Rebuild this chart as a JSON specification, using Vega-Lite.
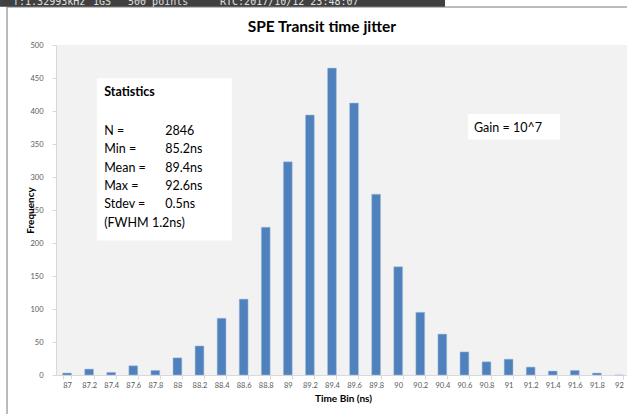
{
  "$schema": "https://vega.github.io/schema/vega-lite/v6.json",
  "autosize": "none",
  "width": 574,
  "height": 330,
  "padding": {"left": 56, "top": 45, "right": 0, "bottom": 39},
  "background": "white",
  "config": {
    "view": {"fill": "#f2f2f2", "stroke": null},
    "axis": {"labelFont": "Lato", "titleFont": "Lato"}
  },
  "data": {
    "values": [
      {"bin": "87", "freq": 3},
      {"bin": "87.2", "freq": 9},
      {"bin": "87.4", "freq": 4},
      {"bin": "87.6", "freq": 14},
      {"bin": "87.8", "freq": 7},
      {"bin": "88", "freq": 26},
      {"bin": "88.2", "freq": 44},
      {"bin": "88.4", "freq": 86},
      {"bin": "88.6", "freq": 115},
      {"bin": "88.8", "freq": 224},
      {"bin": "89", "freq": 323},
      {"bin": "89.2", "freq": 394},
      {"bin": "89.4", "freq": 465},
      {"bin": "89.6", "freq": 412},
      {"bin": "89.8", "freq": 274},
      {"bin": "90", "freq": 164},
      {"bin": "90.2", "freq": 95},
      {"bin": "90.4", "freq": 62},
      {"bin": "90.6", "freq": 35},
      {"bin": "90.8", "freq": 20},
      {"bin": "91", "freq": 24},
      {"bin": "91.2", "freq": 12},
      {"bin": "91.4", "freq": 6},
      {"bin": "91.6", "freq": 7},
      {"bin": "91.8", "freq": 3},
      {"bin": "92", "freq": 0}
    ]
  },
  "encoding": {
    "x": {
      "field": "bin",
      "type": "ordinal",
      "sort": null,
      "scale": {
        "domain": ["87", "87.2", "87.4", "87.6", "87.8", "88", "88.2", "88.4", "88.6", "88.8", "89", "89.2", "89.4", "89.6", "89.8", "90", "90.2", "90.4", "90.6", "90.8", "91", "91.2", "91.4", "91.6", "91.8", "92"],
        "paddingInner": 0.6,
        "paddingOuter": 0.3
      },
      "axis": {
        "title": "Time Bin (ns)",
        "titleFontSize": 10,
        "titleFontWeight": "bold",
        "titleColor": "#000000",
        "titlePadding": 5,
        "labelAngle": 0,
        "labelFontSize": 7.5,
        "labelColor": "#595959",
        "labelPadding": 2,
        "tickBand": "extent",
        "tickSize": 4,
        "tickColor": "#d9d9d9",
        "domainColor": "#d9d9d9",
        "labelFlush": false,
        "labelOverlap": false
      }
    },
    "y": {
      "field": "freq",
      "type": "quantitative",
      "scale": {"domain": [0, 500], "nice": false},
      "axis": {
        "title": "Frequency",
        "titleFontSize": 10,
        "titleFontWeight": "bold",
        "titleColor": "#000000",
        "titleX": -21,
        "values": [0, 50, 100, 150, 200, 250, 300, 350, 400, 450, 500],
        "labelFontSize": 7.5,
        "labelColor": "#595959",
        "labelPadding": 9,
        "tickSize": 4,
        "tickColor": "#d9d9d9",
        "domainColor": "#d9d9d9",
        "grid": false,
        "labelFlush": false
      }
    }
  },
  "layer": [
    {
      "transform": [{"filter": "datum.bin == '87'"}],
      "mark": {"type": "bar", "clip": false, "width": 1000, "xOffset": 440, "fillOpacity": 0, "stroke": "#a6a6a6", "strokeWidth": 1.5},
      "encoding": {"x": {"datum": "87"}, "y": {"datum": 557.6}, "y2": {"datum": -200}}
    },
    {
      "transform": [{"filter": "datum.bin == '87'"}],
      "mark": {"type": "bar", "clip": false, "width": 445, "xOffset": 155.5, "color": "#404040"},
      "encoding": {"x": {"datum": "87"}, "y": {"datum": 600}, "y2": {"datum": 558}}
    },
    {
      "transform": [{"filter": "datum.bin == '87'"}],
      "mark": {"type": "text", "clip": false, "font": "DejaVu Sans Mono", "fontSize": 10, "color": "#e0e0e0", "align": "left", "baseline": "alphabetic", "dx": -54},
      "encoding": {"x": {"datum": "87"}, "y": {"datum": 560}, "text": {"value": "f:1.32993kHz"}}
    },
    {
      "transform": [{"filter": "datum.bin == '87'"}],
      "mark": {"type": "text", "clip": false, "font": "DejaVu Sans Mono", "fontSize": 10, "color": "#e0e0e0", "align": "left", "baseline": "alphabetic", "dx": 26},
      "encoding": {"x": {"datum": "87"}, "y": {"datum": 560}, "text": {"value": "1GS"}}
    },
    {
      "transform": [{"filter": "datum.bin == '87'"}],
      "mark": {"type": "text", "clip": false, "font": "DejaVu Sans Mono", "fontSize": 10, "color": "#e0e0e0", "align": "left", "baseline": "alphabetic", "dx": 61},
      "encoding": {"x": {"datum": "87"}, "y": {"datum": 560}, "text": {"value": "500 points"}}
    },
    {
      "transform": [{"filter": "datum.bin == '87'"}],
      "mark": {"type": "text", "clip": false, "font": "DejaVu Sans Mono", "fontSize": 10, "color": "#e0e0e0", "align": "left", "baseline": "alphabetic", "dx": 153},
      "encoding": {"x": {"datum": "87"}, "y": {"datum": 560}, "text": {"value": "RTC:2017/10/12 23:48:07"}}
    },
    {
      "transform": [{"filter": "datum.bin == '87'"}],
      "mark": {"type": "text", "clip": false, "font": "Lato", "fontSize": 15.5, "fontWeight": "bold", "color": "#000000", "align": "center", "baseline": "alphabetic", "dx": -10},
      "encoding": {"x": {"datum": "89.4"}, "y": {"datum": 519.7}, "text": {"value": "SPE Transit time jitter"}}
    },
    {
      "transform": [{"filter": "datum.bin == '87'"}],
      "mark": {"type": "bar", "width": 135, "xOffset": 9, "color": "#ffffff"},
      "encoding": {"x": {"datum": "87.8"}, "y": {"datum": 449.5}, "y2": {"datum": 203.8}}
    },
    {
      "transform": [{"filter": "datum.bin == '87'"}],
      "mark": {"type": "bar", "width": 92, "xOffset": 5.5, "color": "#ffffff"},
      "encoding": {"x": {"datum": "91"}, "y": {"datum": 395.5}, "y2": {"datum": 357}}
    },
    {
      "mark": {"type": "bar", "color": "#4f81bd", "stroke": "#a9c0e0", "strokeWidth": 0.5}
    },
    {
      "transform": [{"filter": "datum.bin == '87'"}],
      "mark": {"type": "text", "font": "Lato", "fontSize": 12.5, "fontWeight": "bold", "color": "#000000", "align": "left", "baseline": "alphabetic", "dx": -7},
      "encoding": {"x": {"datum": "87.4"}, "y": {"datum": 422.7}, "text": {"value": "Statistics"}}
    },
    {
      "transform": [{"filter": "datum.bin == '87'"}],
      "mark": {"type": "text", "font": "Lato", "fontSize": 12.5, "color": "#000000", "align": "left", "baseline": "alphabetic", "dx": -7, "lineHeight": 18.3},
      "encoding": {"x": {"datum": "87.4"}, "y": {"datum": 363.6}, "text": {"value": ["N =", "Min =", "Mean =", "Max =", "Stdev =", "(FWHM 1.2ns)"]}}
    },
    {
      "transform": [{"filter": "datum.bin == '87'"}],
      "mark": {"type": "text", "font": "Lato", "fontSize": 12.5, "color": "#000000", "align": "left", "baseline": "alphabetic", "dx": 10, "lineHeight": 18.3},
      "encoding": {"x": {"datum": "87.8"}, "y": {"datum": 363.6}, "text": {"value": ["2846", "85.2ns", "89.4ns", "92.6ns", "0.5ns"]}}
    },
    {
      "transform": [{"filter": "datum.bin == '87'"}],
      "mark": {"type": "text", "font": "Lato", "fontSize": 12.5, "color": "#000000", "align": "left", "baseline": "alphabetic", "dx": -12.5},
      "encoding": {"x": {"datum": "90.8"}, "y": {"datum": 368.9}, "text": {"value": "Gain = 10^7"}}
    }
  ]
}
